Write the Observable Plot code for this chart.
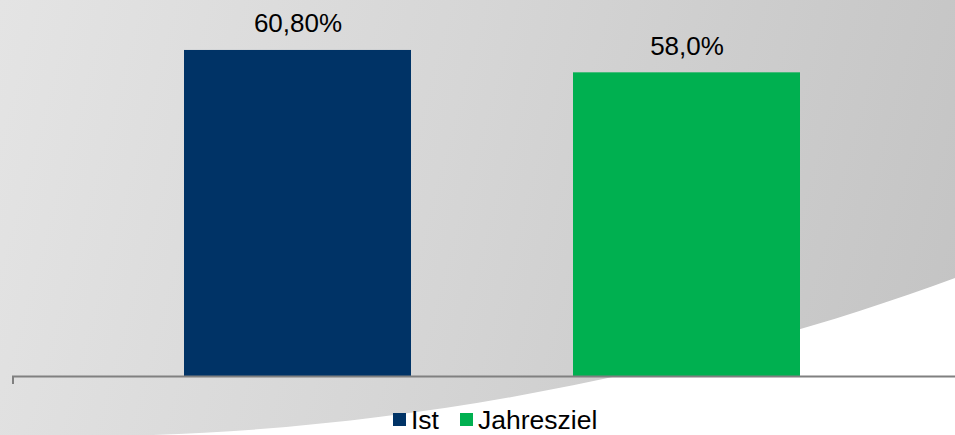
<!DOCTYPE html>
<html>
<head>
<meta charset="utf-8">
<script src="https://cdn.jsdelivr.net/npm/d3@7"></script>
<script src="https://cdn.jsdelivr.net/npm/@observablehq/plot@0.6"></script>
<style>
  html, body { margin: 0; padding: 0; overflow: hidden; }
  #wrap {
    position: relative; width: 955px; height: 435px; overflow: hidden;
    background: linear-gradient(105deg, #e4e4e4 0%, #d6d6d6 45%, #c3c3c3 100%);
    font-family: "Liberation Sans", Arial, sans-serif;
  }
  #decor { position: absolute; left: 0; top: 0; }
  #chart { position: absolute; left: 0; top: 0; }
  #chart svg { background: transparent; overflow: visible; }
  #legend {
    position: absolute; left: 393px; top: 410px; height: 20px;
    font-size: 26.5px; line-height: 20px; color: #000; white-space: nowrap;
  }
  #legend .item { display: inline-block; }
  #legend .sw { display: inline-block; width: 13px; height: 13px; vertical-align: 3px; margin-right: 5px; }
</style>
</head>
<body>
<div id="wrap">
  <svg id="decor" width="955" height="435">
    <path d="M110,436 C400,432 700,372 955,278 L955,440 L110,440 Z" fill="#ffffff"/>
  </svg>
  <div id="chart"></div>
  <div id="legend"></div>
</div>
<script>
const categories = ["Ist", "Jahresziel"];
const values = [60.8, 58.0];
const labels = ["60,80%", "58,0%"];
const colors = ["#003366", "#00b050"];
const axisMin = 20;
const axisMax = 65.8;

const data = categories.map((c, i) => ({category: c, value: values[i], label: labels[i]}));

const leftTick = (index, scales, values, dims) => {
  const g = d3.create("svg:g");
  const y0 = dims.height - dims.marginBottom;
  g.append("line")
    .attr("x1", dims.marginLeft + 1).attr("x2", dims.marginLeft + 1)
    .attr("y1", y0).attr("y2", y0 + 8)
    .attr("stroke", "#808080").attr("stroke-width", 2);
  return g.node();
};

const chart = Plot.plot({
  width: 955,
  height: 400,
  marginTop: 10,
  marginBottom: 24,
  marginLeft: 12,
  marginRight: 0,
  style: {background: "transparent", fontFamily: "'Liberation Sans', Arial, sans-serif"},
  x: {type: "band", domain: categories, range: [12, 972], paddingInner: 0.4154, paddingOuter: 0.4385, axis: null},
  y: {domain: [axisMin, axisMax], clamp: true, axis: null},
  color: {domain: categories, range: colors},
  marks: [
    Plot.barY(data, {x: "category", y: "value", fill: "category"}),
    Plot.ruleY([axisMin], {stroke: "#808080", strokeWidth: 2}),
    leftTick,
    Plot.text(data, {x: "category", y: "value", text: "label", lineAnchor: "bottom", dy: -18, fontSize: 26, fill: "#000"})
  ]
});
document.getElementById("chart").appendChild(chart);

const legend = d3.select("#legend");
categories.forEach((c, i) => {
  const item = legend.append("span").attr("class", "item").style("margin-right", i === 0 ? "21px" : "0");
  item.append("span").attr("class", "sw").style("background", colors[i]);
  item.append("span").text(c);
});
</script>
</body>
</html>
